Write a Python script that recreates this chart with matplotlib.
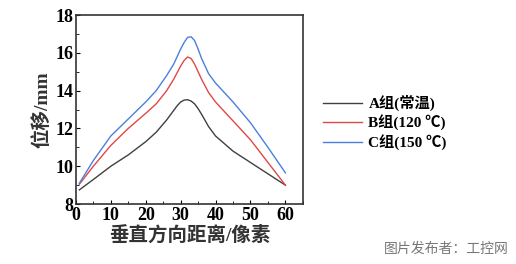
import matplotlib

matplotlib.use("Agg")
import matplotlib.pyplot as plt
from matplotlib.ticker import MultipleLocator
import numpy as np

# distance (pixels) and displacement (mm) for three groups
x = np.array([1, 5, 10, 15, 20, 23, 26, 28, 29, 30, 31, 32, 33, 34, 35, 36, 38, 40, 45, 50, 55, 60])
group_a = np.array([8.75, 9.3, 10.0, 10.6, 11.3, 11.8, 12.45, 12.95, 13.2, 13.4, 13.5, 13.52,
                    13.45, 13.3, 13.05, 12.75, 12.1, 11.6, 10.8, 10.2, 9.6, 9.0])
group_b = np.array([9.05, 10.0, 11.1, 12.0, 12.8, 13.3, 14.0, 14.6, 14.95, 15.3, 15.6, 15.78,
                    15.7, 15.4, 15.0, 14.6, 13.9, 13.4, 12.4, 11.4, 10.2, 9.0])
group_c = np.array([9.1, 10.3, 11.6, 12.5, 13.4, 14.0, 14.8, 15.4, 15.8, 16.2, 16.55, 16.82,
                    16.85, 16.65, 16.2, 15.7, 14.9, 14.4, 13.4, 12.3, 11.0, 9.65])
labels = ["A组(常温)", "B组(120 ℃)", "C组(150 ℃)"]
colors = ["#404040", "#e04848", "#4a7fe0"]

fams = ["Liberation Serif", "Noto Sans CJK SC", "DejaVu Sans"]
plt.rcParams['font.family'] = fams

fig = plt.figure(figsize=(5.16, 2.64), dpi=100)
ax = fig.add_axes([0.147, 0.227, 0.440, 0.716])

for ys, lab, c in zip([group_a, group_b, group_c], labels, colors):
    ax.plot(x, ys, color=c, lw=1.0, label=lab)

ax.set_xlim(0, 65)
ax.set_ylim(8, 18)
ax.set_xticks([0, 10, 20, 30, 40, 50, 60])
ax.set_yticks([8, 10, 12, 14, 16, 18])
ax.xaxis.set_minor_locator(MultipleLocator(5))
ax.yaxis.set_minor_locator(MultipleLocator(1))
ax.tick_params(which="both", direction="in", top=False, right=False)
ax.tick_params(which="major", length=3, labelsize=13)
ax.tick_params(axis="x", which="major", pad=2)
ax.tick_params(axis="y", which="major", pad=2)
ax.tick_params(which="minor", length=2)
for lab in ax.get_xticklabels() + ax.get_yticklabels():
    lab.set_fontweight("bold")
for s in ax.spines.values():
    s.set_linewidth(1.2)
    s.set_color("#333333")

ax.set_xlabel("垂直方向距离/像素", fontsize=14, fontweight="bold", labelpad=1, color="#333333")
ax.set_ylabel("位移/mm", fontsize=14, fontweight="bold", labelpad=3, color="#333333")

leg = ax.legend(loc="upper left", bbox_to_anchor=(1.06, 0.61), frameon=False,
                prop={"family": fams, "weight": "bold", "size": 11},
                handlelength=2.6, handletextpad=0.4, labelspacing=0.25, borderaxespad=0)

fig.text(0.985, 0.03, "图片发布者：工控网", ha="right", va="bottom", fontsize=10,
         color="#777777", family=["Noto Sans CJK SC", "DejaVu Sans"])

fig.savefig("out.png", dpi=100)
